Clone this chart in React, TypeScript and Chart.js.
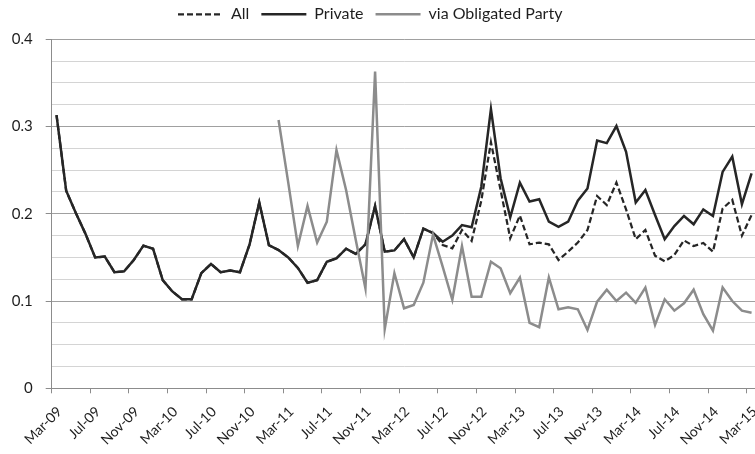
import React, { useEffect, useRef } from 'react';
import { Chart, registerables } from 'chart.js';

Chart.register(...registerables);

const MONTHS: string[] = [
  'Mar-09', 'Apr-09', 'May-09', 'Jun-09', 'Jul-09', 'Aug-09', 'Sep-09', 'Oct-09', 'Nov-09', 'Dec-09',
  'Jan-10', 'Feb-10', 'Mar-10', 'Apr-10', 'May-10', 'Jun-10', 'Jul-10', 'Aug-10', 'Sep-10', 'Oct-10', 'Nov-10', 'Dec-10',
  'Jan-11', 'Feb-11', 'Mar-11', 'Apr-11', 'May-11', 'Jun-11', 'Jul-11', 'Aug-11', 'Sep-11', 'Oct-11', 'Nov-11', 'Dec-11',
  'Jan-12', 'Feb-12', 'Mar-12', 'Apr-12', 'May-12', 'Jun-12', 'Jul-12', 'Aug-12', 'Sep-12', 'Oct-12', 'Nov-12', 'Dec-12',
  'Jan-13', 'Feb-13', 'Mar-13', 'Apr-13', 'May-13', 'Jun-13', 'Jul-13', 'Aug-13', 'Sep-13', 'Oct-13', 'Nov-13', 'Dec-13',
  'Jan-14', 'Feb-14', 'Mar-14', 'Apr-14', 'May-14', 'Jun-14', 'Jul-14', 'Aug-14', 'Sep-14', 'Oct-14', 'Nov-14', 'Dec-14',
  'Jan-15', 'Feb-15', 'Mar-15',
];

const TICK_LABELS: string[] = [
  'Mar-09', 'Jul-09', 'Nov-09', 'Mar-10', 'Jul-10', 'Nov-10', 'Mar-11', 'Jul-11', 'Nov-11', 'Mar-12',
  'Jul-12', 'Nov-12', 'Mar-13', 'Jul-13', 'Nov-13', 'Mar-14', 'Jul-14', 'Nov-14', 'Mar-15',
];

const Y_LABELS: number[] = [0, 0.1, 0.2, 0.3, 0.4];

const PRIVATE: number[] = [
  0.313, 0.2265, 0.201, 0.177, 0.150, 0.151, 0.133, 0.134, 0.147, 0.1635,
  0.160, 0.124, 0.111, 0.102, 0.102, 0.132, 0.1425, 0.133, 0.135, 0.133,
  0.165, 0.213, 0.164, 0.1585, 0.150, 0.138, 0.121, 0.124, 0.145, 0.149,
  0.160, 0.154, 0.165, 0.209, 0.1566, 0.158, 0.171, 0.150, 0.183, 0.178,
  0.168, 0.175, 0.187, 0.1845, 0.231, 0.320, 0.2407, 0.196, 0.2357, 0.214,
  0.2166, 0.191, 0.185, 0.191, 0.215, 0.229, 0.284, 0.281, 0.3006, 0.271,
  0.213, 0.2273, 0.1986, 0.1708, 0.186, 0.1975, 0.188, 0.205, 0.1975, 0.248,
  0.2655, 0.211, 0.2464,
];

const ALL: number[] = [
  0.313, 0.2265, 0.201, 0.177, 0.150, 0.151, 0.133, 0.134, 0.147, 0.1635,
  0.160, 0.124, 0.111, 0.102, 0.102, 0.132, 0.1425, 0.133, 0.135, 0.133,
  0.165, 0.213, 0.164, 0.1585, 0.150, 0.138, 0.121, 0.124, 0.145, 0.149,
  0.160, 0.154, 0.165, 0.209, 0.1566, 0.158, 0.171, 0.150, 0.183, 0.178,
  0.1643, 0.1605, 0.1814, 0.169, 0.215, 0.282, 0.2273, 0.172, 0.198, 0.165,
  0.167, 0.165, 0.147, 0.1566, 0.167, 0.1814, 0.2204, 0.21, 0.2357, 0.205,
  0.171, 0.1814, 0.152, 0.1455, 0.1528, 0.1695, 0.163, 0.1665, 0.1566, 0.206,
  0.216, 0.175, 0.1986,
];

const OBLIGATED: (number | null)[] = [
  null, null, null, null, null, null, null, null, null, null,
  null, null, null, null, null, null, null, null, null, null,
  null, null, null, 0.3075, 0.236, 0.163, 0.209, 0.167, 0.191, 0.273,
  0.227, 0.170, 0.1146, 0.363, 0.068, 0.132, 0.0917, 0.0955, 0.121, 0.1762,
  0.1394, 0.1015, 0.163, 0.105, 0.105, 0.145, 0.1375, 0.109, 0.1268, 0.075,
  0.070, 0.127, 0.0905, 0.093, 0.0905, 0.0668, 0.0993, 0.113, 0.100, 0.1096,
  0.098, 0.1155, 0.0726, 0.102, 0.089, 0.0974, 0.113, 0.085, 0.066, 0.1155,
  0.1, 0.089, 0.0867,
];

const FONT = 'Lato, "Open Sans", sans-serif';
const DARK = '#262626';
const GRAY = '#8c8c8c';
const TEXT = '#1e1e1e';

const isMajor = (v: number) => Y_LABELS.some((m) => Math.abs(m - v) < 1e-6);

export default function App() {
  const ref = useRef<HTMLCanvasElement>(null);

  useEffect(() => {
    const canvas = ref.current;
    if (!canvas) return;
    const chart = new Chart(canvas, {
      type: 'line',
      data: {
        labels: MONTHS,
        datasets: [
          {
            label: 'All',
            data: ALL,
            xAxisID: 'x',
            yAxisID: 'y',
            borderColor: DARK,
            backgroundColor: DARK,
            borderWidth: 2.25,
            borderDash: [6, 3],
            pointRadius: 0,
            tension: 0,
            order: 2,
          },
          {
            label: 'Private',
            data: PRIVATE,
            xAxisID: 'x',
            yAxisID: 'y',
            borderColor: DARK,
            backgroundColor: DARK,
            borderWidth: 2.5,
            pointRadius: 0,
            tension: 0,
            order: 1,
          },
          {
            label: 'via Obligated Party',
            data: OBLIGATED,
            xAxisID: 'x',
            yAxisID: 'y',
            borderColor: GRAY,
            backgroundColor: GRAY,
            borderWidth: 2.5,
            pointRadius: 0,
            tension: 0,
            spanGaps: false,
            order: 0,
          },
        ],
      },
      options: {
        responsive: false,
        animation: false,
        devicePixelRatio: 1,
        layout: { padding: { left: 0, right: 0.6, top: -5.7, bottom: 0 } },
        plugins: {
          legend: {
            position: 'top',
            labels: {
              usePointStyle: true,
              pointStyle: 'line',
              pointStyleWidth: 45,
              padding: 12,
              color: TEXT,
              font: { family: FONT, size: 16 },
              sort: (a: any, b: any) => a.datasetIndex - b.datasetIndex,
              generateLabels: (ch: any) => {
                const items = Chart.defaults.plugins.legend.labels.generateLabels(ch);
                return items.map((it: any) => {
                  const ds: any = ch.data.datasets[it.datasetIndex];
                  return {
                    ...it,
                    lineDash: ds.borderDash || [],
                    lineWidth: ds.borderWidth,
                    strokeStyle: ds.borderColor,
                    fillStyle: ds.borderColor,
                    pointStyle: 'line',
                  };
                });
              },
            },
          },
          tooltip: { enabled: false },
        },
        scales: {
          x: {
            type: 'category',
            offset: true,
            grid: {
              offset: true,
              drawOnChartArea: false,
              drawTicks: true,
              tickLength: 5,
              tickColor: (c: any) =>
                c.index !== undefined && c.index < MONTHS.length && TICK_LABELS.includes(MONTHS[c.index])
                  ? '#8c8c8c'
                  : 'rgba(0,0,0,0)',
            },
            border: { color: '#8c8c8c', width: 1 },
            ticks: {
              autoSkip: false,
              minRotation: 45,
              maxRotation: 45,
              padding: 10,
              labelOffset: 3,
              color: TEXT,
              font: { family: FONT, size: 14 },
              callback: (_v: any, i: number) => (TICK_LABELS.includes(MONTHS[i]) ? MONTHS[i] : ''),
            },
            afterFit: (s: any) => {
              s.height = 65.7;
              s.paddingLeft = 0;
              s.paddingRight = 0;
            },
          },
          xGap: {
            type: 'category',
            position: 'top',
            display: true,
            grid: { display: false, drawTicks: false },
            border: { display: false },
            ticks: { display: false },
            afterFit: (s: any) => {
              s.height = 7;
              s.paddingLeft = 0;
              s.paddingRight = 0;
            },
          },
          y: {
            min: 0,
            max: 0.4,
            ticks: {
              stepSize: 0.025,
              maxTicksLimit: 40,
              padding: 13,
              color: TEXT,
              font: { family: FONT, size: 15 },
              callback: (v: any) => {
                const n = Number(v);
                if (!isMajor(n)) return '';
                return n === 0 ? '0' : n.toFixed(1);
              },
            },
            grid: {
              color: (c: any) => (c.tick && isMajor(c.tick.value) ? '#a0a0a0' : '#d4d4d4'),
              tickColor: (c: any) => (c.tick && isMajor(c.tick.value) ? '#8c8c8c' : 'rgba(0,0,0,0)'),
              tickLength: 6,
              lineWidth: 1,
            },
            border: { color: '#8c8c8c', width: 1 },
            afterFit: (s: any) => {
              s.width = 67.7;
              s.paddingTop = 0;
              s.paddingBottom = 0;
            },
          },
        },
      },
    });
    return () => chart.destroy();
  }, []);

  return (
    <div
      style={{
        position: 'absolute',
        left: 0,
        top: 0,
        width: 755,
        height: 454,
        overflow: 'hidden',
        background: '#ffffff',
      }}
    >
      <canvas ref={ref} width={773} height={454} style={{ position: 'absolute', left: -16, top: 0 }} />
    </div>
  );
}
